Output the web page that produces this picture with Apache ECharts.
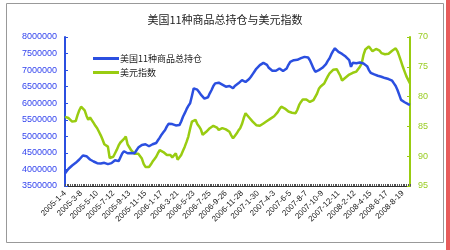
<!DOCTYPE html>
<html><head><meta charset="utf-8">
<script src="https://cdn.jsdelivr.net/npm/echarts@6/dist/echarts.min.js"></script>
<style>html,body{margin:0;padding:0;background:#fff}#c{width:450px;height:250px}</style>
</head><body><div id="c"></div>
<script>
var titleText = '美国11种商品总持仓与美元指数';
var seriesNames = ['美国11种商品总持仓', '美元指数'];
var startDate = '2005-1-4';
var weekCount = 194;
// open interest, in units of 10,000 contracts (weekly)
var holdings = [388,395,402,408,412,418,420,426,430,436,442,445,440,434,430,426,424,421,419,417,
418,415,420,418,416,421,419,420,428,432,425,430,448,455,452,449,446,450,447,449,
458,466,470,474,472,476,474,470,473,476,474,480,488,496,505,512,519,530,538,540,
537,535,533,532,534,545,559,570,582,592,600,622,645,643,641,634,626,620,614,610,
618,630,640,652,660,658,662,660,656,652,650,648,652,647,645,652,656,660,665,670,
666,664,668,673,680,688,696,704,710,715,719,722,725,716,707,702,698,695,698,703,
705,701,697,695,705,716,725,728,730,728,731,734,736,737,740,743,738,730,718,705,
695,697,700,703,707,710,718,728,736,748,758,766,761,755,751,749,746,741,736,730,
710,722,716,721,719,723,725,720,716,712,700,692,689,687,685,683,681,680,678,676,
675,673,671,668,660,652,640,625,610,606,603,600,597,595];
var dollarIndex = [83.4,83.2,83.6,83.9,84.2,84.5,84.1,83.1,82.3,81.7,81.9,82.3,83.2,83.9,83.5,83.7,84.4,84.9,85.3,85.9,
86.5,87.2,88.0,88.2,88.4,90.3,90.4,90.1,89.5,88.9,88.2,87.7,87.4,87.1,86.7,88.0,88.5,89.0,89.3,89.6,
89.8,89.6,89.5,90.4,91.3,91.8,91.7,91.8,91.4,90.9,90.5,90.1,89.5,89.0,89.2,89.3,89.2,89.8,90.1,89.8,
90.2,90.4,89.5,90.6,90.3,89.8,89.1,88.4,87.6,86.7,85.4,84.2,84.0,83.9,84.6,85.0,85.5,86.4,86.2,85.9,
85.6,85.3,85.1,84.9,84.8,85.2,85.6,85.5,85.3,85.3,85.5,85.8,85.9,86.5,87.0,86.6,86.2,85.7,85.3,84.6,
83.6,82.8,82.6,83.5,83.8,84.2,84.5,84.8,85.0,84.9,84.8,84.5,84.3,84.1,83.9,83.7,83.5,83.3,83.1,82.6,
82.1,81.7,81.8,82.0,82.2,82.5,82.6,82.7,82.8,82.8,82.2,81.4,80.9,80.5,80.3,80.5,80.7,80.9,80.7,80.6,
80.4,79.5,78.7,78.3,78.0,77.8,77.2,76.6,76.1,75.8,75.5,75.3,75.4,75.6,76.5,77.3,77.2,76.8,76.5,76.3,
76.1,76.0,75.9,75.8,75.5,75.0,74.4,73.0,72.1,71.8,71.6,71.9,72.4,72.3,72.0,71.9,72.3,72.7,72.8,72.9,
73.0,72.8,72.5,72.3,72.0,71.9,72.4,73.2,74.1,75.0,75.8,76.6,77.2,77.8];

var categories = [];
(function(){
  var p = startDate.split('-');
  var d = new Date(Date.UTC(+p[0], +p[1]-1, +p[2]));
  for (var i = 0; i < weekCount; i++) {
    var t = new Date(d.getTime() + i*7*86400000);
    categories.push(t.getUTCFullYear() + '-' + (t.getUTCMonth()+1) + '-' + t.getUTCDate());
  }
})();

var BLUE = '#2b4fe0', GREEN = '#99cc11';
var chart = echarts.init(document.getElementById('c'), null, {renderer:'canvas'});
chart.setOption({
  animation: false,
  backgroundColor: '#fff',
  textStyle: {fontFamily: 'Liberation Sans, Arial, sans-serif'},
  title: {text: titleText, left: 'center', top: 9,
    textStyle: {fontSize: 11, fontWeight: 'normal', color: '#222', fontFamily: 'Noto Sans CJK SC'}},
  graphic: [
    {type:'rect', shape:{x:6.5, y:3.5, width:437, height:239}, style:{fill:'none', stroke:'#999', lineWidth:1}, z:-1},
    {type:'rect', shape:{x:446, y:0, width:4, height:250}, style:{fill:'#e85c5c'}, z:-1}
  ],
  legend: {left: 88, top: 49, orient:'vertical', itemGap: 5, itemWidth: 26, itemHeight: 3,
    icon: 'rect',
    data: seriesNames,
    textStyle:{fontSize: 9, color:'#222', fontFamily:'Noto Sans CJK SC', padding:[0,0,0,-4]}},
  grid: {left: 65, right: 40, top: 37, bottom: 64},
  xAxis: {type:'category', data: categories, boundaryGap: false,
    axisLine:{lineStyle:{color:'#333', width:1}},
    axisTick:{show:true, interval:0, length:2, inside:true, lineStyle:{color:'#555'}},
    axisLabel:{interval:8, rotate:45, fontSize:8, color:'#222', margin:6}},
  yAxis: [
    {type:'value', min:3500000, max:8000000, interval:500000, position:'left',
      splitLine:{show:false},
      axisLine:{show:true, lineStyle:{color:BLUE, width:2}},
      axisTick:{show:true, inside:true, length:3, lineStyle:{color:BLUE}},
      axisLabel:{fontSize:9, color:'#3344ee', margin:8, formatter:function(v){return String(v);}}},
    {type:'value', min:70, max:95, interval:5, inverse:true, position:'right',
      splitLine:{show:false},
      axisLine:{show:true, lineStyle:{color:GREEN, width:2}},
      axisTick:{show:true, inside:true, length:3, lineStyle:{color:GREEN}},
      axisLabel:{fontSize:9, color:'#99cc22', margin:8}}
  ],
  series: [
    {name: seriesNames[0], type:'line', yAxisIndex:0, showSymbol:false,
      data: holdings.map(function(v){return v*10000;}),
      lineStyle:{color:BLUE, width:2.5}, itemStyle:{color:BLUE}, z:3},
    {name: seriesNames[1], type:'line', yAxisIndex:1, showSymbol:false,
      data: dollarIndex,
      lineStyle:{color:GREEN, width:2.5}, itemStyle:{color:GREEN}, z:2}
  ]
});
</script></body></html>
